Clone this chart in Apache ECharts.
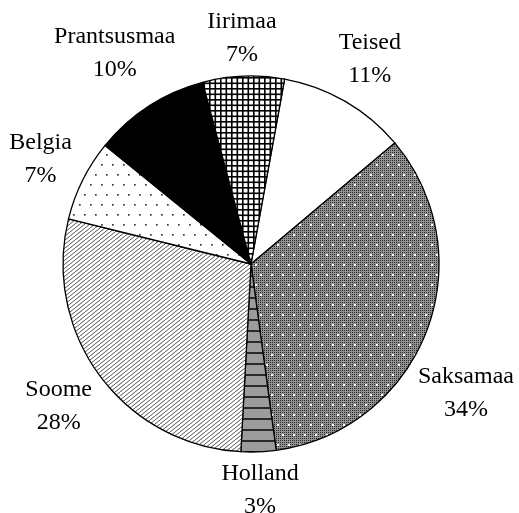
<!DOCTYPE html>
<html>
<head>
<meta charset="utf-8">
</head>
<body style="margin: 0; background: #fff">
<div id="container" style="width: 519px; height: 513px"></div>
<script src="https://cdn.jsdelivr.net/npm/echarts@6.0.0/dist/echarts.min.js"></script>
<script>
// slices, clockwise from the top
var names = ['Teised', 'Saksamaa', 'Holland', 'Soome', 'Belgia', 'Prantsusmaa', 'Iirimaa'];
var values = [11, 34, 3, 28, 7, 10, 7];

var W = 519, H = 513;
var CX = 251, CY = 264, R = 188;
var START = 79.7;   // degrees, echarts convention
var GAP = 5;        // px between pie edge and label box
var EDGE = 4;       // labels keep this far from the side edges

function tile(w, h, draw) {
    var c = document.createElement('canvas');
    c.width = w;
    c.height = h;
    var ctx = c.getContext('2d');
    draw(ctx, w, h);
    return {image: c, repeat: 'repeat'};
}

function staggerDots(ctx, color, size) {
    ctx.fillStyle = color;
    [[2, 4], [13, 4], [7, 14], [18, 14]].forEach(function (p) {
        ctx.fillRect(p[0], p[1], size, size);
    });
}

var fills = [
    // Teised: plain white
    '#fff',
    // Saksamaa: grey mesh with white dots
    tile(22, 20, function (ctx, w, h) {
        ctx.fillStyle = '#929292';
        ctx.fillRect(0, 0, w, h);
        ctx.fillStyle = '#2a2a2a';
        for (var x = 0; x < w; x += 2)
            for (var y = 0; y < h; y += 2) ctx.fillRect(x, y, 1, 1);
        staggerDots(ctx, '#fff', 2);
    }),
    // Holland: grey with horizontal stripes
    tile(4, 11, function (ctx, w, h) {
        ctx.fillStyle = '#9c9c9c';
        ctx.fillRect(0, 0, w, h);
        ctx.fillStyle = '#2a2a2a';
        ctx.fillRect(0, 0, w, 2);
    }),
    // Soome: diagonal hatch
    tile(5, 4, function (ctx, w, h) {
        ctx.fillStyle = '#fff';
        ctx.fillRect(0, 0, w, h);
        ctx.strokeStyle = '#4a4a4a';
        ctx.lineWidth = 0.95;
        [-w, 0, w].forEach(function (s) {
            ctx.beginPath();
            ctx.moveTo(s, h);
            ctx.lineTo(s + w, 0);
            ctx.stroke();
        });
    }),
    // Belgia: sparse dots
    tile(22, 20, function (ctx, w, h) {
        ctx.fillStyle = '#fff';
        ctx.fillRect(0, 0, w, h);
        staggerDots(ctx, '#3a3a3a', 1.7);
    }),
    // Prantsusmaa: solid black
    '#000',
    // Iirimaa: square grid
    tile(11, 11, function (ctx, w, h) {
        ctx.fillStyle = '#fff';
        ctx.fillRect(0, 0, w, h);
        ctx.fillStyle = '#000';
        ctx.fillRect(0, 0, 1.6, h);
        ctx.fillRect(5.5, 0, 1.6, h);
        ctx.fillRect(0, 0, w, 1.6);
        ctx.fillRect(0, 5.5, w, 1.6);
    })
];

var total = values.reduce(function (a, b) { return a + b; }, 0);

function midAngle(i) {
    var before = 0;
    for (var j = 0; j < i; j++) before += values[j];
    return START - (before + values[i] / 2) / total * 360;
}

// centre of a label box that just clears the pie at the given angle
function boxAt(deg, hw, hh) {
    var a = deg * Math.PI / 180;
    var dx = Math.cos(a), dy = -Math.sin(a);
    var lo = 0, hi = R + 400, t = 0;
    for (var k = 0; k < 40; k++) {
        t = (lo + hi) / 2;
        var nx = Math.max(Math.abs(t * dx) - hw, 0);
        var ny = Math.max(Math.abs(t * dy) - hh, 0);
        if (Math.sqrt(nx * nx + ny * ny) < R + GAP) lo = t; else hi = t;
    }
    return [CX + t * dx, CY + t * dy];
}

function fits(p, hw) {
    return p[0] - hw >= EDGE && p[0] + hw <= W - EDGE;
}

var chart = echarts.init(document.getElementById('container'));

var option = {
    backgroundColor: '#fff',
    animation: false,
    series: [{
        type: 'pie',
        center: [CX, CY],
        radius: R,
        startAngle: START,
        clockwise: true,
        avoidLabelOverlap: false,
        itemStyle: {
            borderColor: '#000',
            borderWidth: 1.3
        },
        label: {
            show: true,
            position: 'outside',
            formatter: '{b}\n{d}%',
            fontFamily: 'Liberation Serif',
            fontSize: 24,
            lineHeight: 33,
            color: '#000'
        },
        labelLine: {show: false},
        labelLayout: function (p) {
            var hw = p.labelRect.width / 2, hh = p.labelRect.height / 2;
            var deg = midAngle(p.dataIndex);
            var pos = boxAt(deg, hw, hh);
            // slide along the pie until the label fits across the page
            for (var d = 0.5; !fits(pos, hw) && d < 60; d += 0.5) {
                var a = boxAt(deg - d, hw, hh), b = boxAt(deg + d, hw, hh);
                if (fits(a, hw)) pos = a;
                else if (fits(b, hw)) pos = b;
            }
            return {
                x: pos[0],
                y: pos[1],
                align: 'center',
                verticalAlign: 'middle'
            };
        },
        emphasis: {disabled: true},
        data: names.map(function (n, i) {
            return {name: n, value: values[i], itemStyle: {color: fills[i]}};
        })
    }]
};

chart.setOption(option);
</script>
</body>
</html>
